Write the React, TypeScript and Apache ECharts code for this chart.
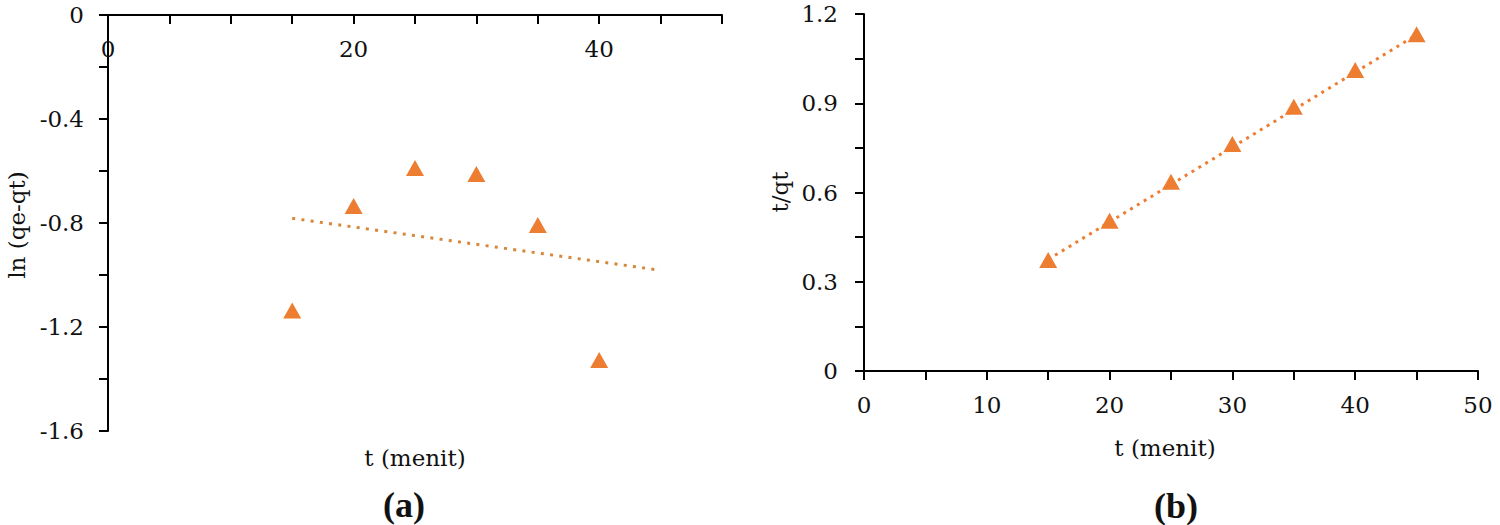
import React, { useEffect, useRef } from "react";
import * as echarts from "echarts";

// ---- data ----
const timeA = [15, 20, 25, 30, 35, 40];
const lnQeQt = [-1.137, -0.735, -0.588, -0.612, -0.808, -1.327];
const trendTimeA = [15, 45];
const trendLnA = [-0.782, -0.982];

const timeB = [15, 20, 25, 30, 35, 40, 45];
const tOverQt = [0.373, 0.505, 0.636, 0.763, 0.888, 1.012, 1.132];
const trendTimeB = [15, 45];
const trendTqB = [0.375, 1.13];

const xTitle = "t (menit)";
const yTitleA = "ln (qe-qt)";
const yTitleB = "t/qt";
const panelA = "(a)";
const panelB = "(b)";

const FONT = "DejaVu Serif";
const ORANGE = "#ED7D31";
const TREND_A = "#D8873A";

const isMult = (v: number, step: number) =>
  Math.abs(Math.round(v / step) * step - v) < 1e-6;

export default function App() {
  const ref = useRef<HTMLDivElement>(null);
  useEffect(() => {
    if (!ref.current) return;
    const chart = echarts.init(ref.current, undefined, { renderer: "svg" });
    const axisLine = { lineStyle: { color: "#000", width: 2 } };
    const axisTick = { length: 9, lineStyle: { color: "#000", width: 2 } };
    const labelBase = { color: "#111", fontFamily: FONT, fontSize: 23 };
    const textStyle = (extra: any = {}) => ({
      fill: "#111",
      font: `23px "${FONT}"`,
      align: "center",
      verticalAlign: "middle",
      ...extra,
    });
    chart.setOption({
      animation: false,
      backgroundColor: "#fff",
      grid: [
        { left: 108, top: 15, width: 614, height: 416 },
        { left: 864, top: 14, width: 614, height: 357 },
      ],
      xAxis: [
        {
          gridIndex: 0,
          type: "value",
          position: "top",
          min: 0,
          max: 50,
          interval: 5,
          axisLine: { ...axisLine, onZero: false },
          axisTick: { ...axisTick, inside: true },
          splitLine: { show: false },
          axisLabel: {
            ...labelBase,
            inside: true,
            margin: 22,
            verticalAlign: "top",
            formatter: (v: number) => (isMult(v, 20) ? String(Math.round(v)) : ""),
          },
        },
        {
          gridIndex: 1,
          type: "value",
          min: 0,
          max: 50,
          interval: 5,
          axisLine: { ...axisLine, onZero: false },
          axisTick,
          splitLine: { show: false },
          axisLabel: {
            ...labelBase,
            margin: 22,
            formatter: (v: number) => (isMult(v, 10) ? String(Math.round(v)) : ""),
          },
        },
      ],
      yAxis: [
        {
          gridIndex: 0,
          type: "value",
          min: -1.6,
          max: 0,
          interval: 0.2,
          axisLine: { ...axisLine, onZero: false },
          axisTick,
          splitLine: { show: false },
          axisLabel: {
            ...labelBase,
            margin: 24,
            formatter: (v: number) =>
              isMult(v, 0.4) ? (Math.abs(v) < 1e-9 ? "0" : v.toFixed(1)) : "",
          },
        },
        {
          gridIndex: 1,
          type: "value",
          min: 0,
          max: 1.2,
          interval: 0.15,
          axisLine: { ...axisLine, onZero: false },
          axisTick,
          splitLine: { show: false },
          axisLabel: {
            ...labelBase,
            margin: 26,
            formatter: (v: number) =>
              isMult(v, 0.3) ? (Math.abs(v) < 1e-9 ? "0" : v.toFixed(1)) : "",
          },
        },
      ],
      series: [
        {
          type: "scatter",
          xAxisIndex: 0,
          yAxisIndex: 0,
          symbol: "triangle",
          symbolSize: [18, 16],
          itemStyle: { color: ORANGE, opacity: 1 },
          data: timeA.map((t, i) => [t, lnQeQt[i]]),
          z: 3,
        },
        {
          type: "line",
          xAxisIndex: 0,
          yAxisIndex: 0,
          symbol: "none",
          lineStyle: { color: TREND_A, width: 3, type: [3, 6.3] },
          data: trendTimeA.map((t, i) => [t, trendLnA[i]]),
          z: 4,
        },
        {
          type: "scatter",
          xAxisIndex: 1,
          yAxisIndex: 1,
          symbol: "triangle",
          symbolSize: [18, 16],
          itemStyle: { color: ORANGE, opacity: 1 },
          data: timeB.map((t, i) => [t, tOverQt[i]]),
          z: 3,
        },
        {
          type: "line",
          xAxisIndex: 1,
          yAxisIndex: 1,
          symbol: "none",
          lineStyle: { color: ORANGE, width: 3, type: [3, 5] },
          data: trendTimeB.map((t, i) => [t, trendTqB[i]]),
          z: 4,
        },
      ],
      graphic: [
        {
          type: "text",
          x: 17,
          y: 225,
          rotation: Math.PI / 2,
          style: textStyle({ text: yTitleA }),
        },
        { type: "text", x: 415, y: 458, style: textStyle({ text: xTitle }) },
        {
          type: "text",
          x: 404,
          y: 505,
          style: textStyle({
            text: panelA,
            font: 'bold 36px "Liberation Serif"',
          }),
        },
        {
          type: "text",
          x: 780,
          y: 192,
          rotation: Math.PI / 2,
          style: textStyle({ text: yTitleB }),
        },
        { type: "text", x: 1165, y: 448, style: textStyle({ text: xTitle }) },
        {
          type: "text",
          x: 1176,
          y: 506,
          style: textStyle({
            text: panelB,
            font: 'bold 36px "Liberation Serif"',
          }),
        },
      ],
    });
    return () => chart.dispose();
  }, []);
  return (
    <div
      ref={ref}
      style={{ position: "absolute", left: 0, top: 0, width: 1500, height: 525 }}
    />
  );
}
